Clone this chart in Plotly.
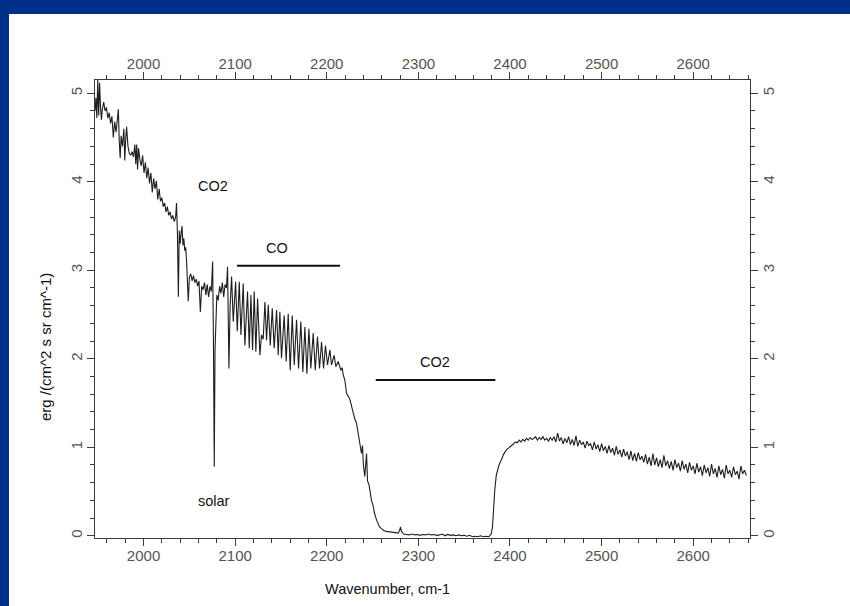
import plotly.graph_objects as go

# ---- spectrum segments (wavenumber cm-1, radiance erg/(cm^2 s sr cm^-1)) ----
wn_a = [1947, 1948, 1949, 1950, 1951, 1952, 1953, 1954, 1955, 1956.5, 1958, 1959.5, 1961, 1962.5,
        1964, 1965.5, 1967, 1968.5, 1970, 1971.5, 1972.5, 1973.5, 1974.5, 1975.5, 1977, 1978.5,
        1979.5, 1980.5, 1981.5, 1983, 1984.5, 1986, 1987.5, 1989, 1990.5, 1991.5, 1992.5, 1993.5,
        1994.5, 1996, 1997.5, 1999, 2000.5, 2002, 2003.5, 2005, 2006.5, 2008, 2009.5, 2011,
        2012.5, 2014, 2015.5, 2017, 2018.5, 2020, 2021.5, 2023, 2024.5, 2026, 2027.5, 2029,
        2030.5, 2032, 2033.5, 2035, 2036, 2037, 2038, 2039, 2040, 2041, 2042, 2043, 2044, 2045,
        2046, 2047, 2048.8, 2050, 2051.5, 2053, 2054.5, 2056, 2057.5, 2059, 2060.5, 2062, 2063.5,
        2065, 2066.5, 2068, 2069.5, 2071, 2072.5, 2074, 2075.4, 2076.3, 2077.2, 2078, 2079, 2080,
        2081.5, 2083, 2084.5, 2086, 2087.5, 2089, 2090.5, 2091.7, 2093.2, 2094.5, 2096.1]
rad_a = [4.80, 4.95, 4.72, 5.15, 4.75, 5.12, 4.85, 4.70, 4.82, 4.90, 4.80, 4.84, 4.72, 4.78,
         4.66, 4.74, 4.50, 4.68, 4.56, 4.70, 4.82, 4.45, 4.27, 4.52, 4.40, 4.60,
         4.24, 4.48, 4.62, 4.40, 4.32, 4.30, 4.34, 4.28, 4.42, 4.20, 4.42, 4.14,
         4.38, 4.25, 4.18, 4.30, 4.10, 4.22, 4.04, 4.16, 3.98, 4.10, 3.88, 4.04,
         3.92, 4.01, 3.80, 3.92, 3.78, 3.82, 3.72, 3.76, 3.66, 3.72, 3.62, 3.66,
         3.58, 3.62, 3.55, 3.60, 3.76, 3.40, 2.70, 3.45, 3.30, 3.42, 3.50, 3.28, 3.36, 3.22,
         3.26, 3.10, 2.65, 2.92, 2.96, 2.88, 2.94, 2.86, 2.90, 2.82, 2.88, 2.53, 2.82,
         2.78, 2.86, 2.72, 2.84, 2.70, 2.82, 2.76, 3.10, 2.20, 0.78, 2.10, 2.50, 2.72,
         2.66, 2.82, 2.74, 2.86, 2.70, 2.84, 2.80, 3.04, 1.89, 2.60, 2.93]

wn_co = [2097.9, 2100.5, 2102.3, 2104.5, 2106.3, 2108.8, 2110.6, 2113.5, 2115.4, 2117.2, 2119.0,
         2120.8, 2122.6, 2124.5, 2127.0, 2128.8, 2130.6, 2132.5, 2134.3, 2136.1, 2138.3, 2140.5,
         2142.6, 2145.2, 2147.0, 2148.8, 2150.6, 2153.5, 2155.7, 2157.9, 2160.1, 2162.3, 2164.5,
         2167.0, 2169.2, 2171.7, 2173.9, 2176.1, 2178.3, 2180.5, 2182.6, 2185.2, 2187.4, 2189.9,
         2192.1, 2194.3, 2196.5, 2198.6, 2200.8, 2203.4, 2205.2, 2208.1, 2209.9, 2212.5, 2215.4,
         2216.8, 2217.9, 2219.7]
rad_co = [2.42, 2.87, 2.31, 2.87, 2.27, 2.85, 2.15, 2.76, 2.12, 2.72, 2.10,
          2.76, 2.08, 2.68, 2.04, 2.27, 2.22, 2.64, 2.21, 2.61, 2.15, 2.57,
          2.12, 2.55, 2.04, 2.53, 2.01, 2.49, 1.97, 2.51, 1.87, 2.49, 1.93,
          2.44, 1.89, 2.42, 1.85, 2.36, 1.83, 2.34, 1.89, 2.29, 1.87, 2.25,
          1.89, 2.19, 1.89, 2.15, 1.93, 2.10, 1.93, 2.04, 1.91, 1.97, 1.87,
          1.90, 1.82, 1.76]

wn_drop = [2221.6, 2225, 2227, 2229, 2230.6, 2232.5, 2234, 2236, 2237.9, 2239, 2240, 2241.5,
           2242.5, 2243.4, 2244.5, 2246, 2247, 2248.8, 2250.6, 2252, 2254.3, 2256, 2257.6,
           2259.8, 2262, 2265, 2268.8, 2272, 2275, 2278, 2279.5, 2280.5, 2281.5]
rad_drop = [1.61, 1.55, 1.46, 1.40, 1.32, 1.27, 1.18, 1.05, 0.93, 1.02, 0.80, 0.67,
            0.80, 0.93, 0.62, 0.58, 0.52, 0.40, 0.34, 0.26, 0.18, 0.13, 0.10,
            0.08, 0.06, 0.05, 0.045, 0.035, 0.03, 0.03, 0.06, 0.10, 0.05]

wn_band = [2284, 2287, 2290, 2293, 2296, 2299, 2302, 2305, 2308, 2311, 2314, 2317, 2320, 2323,
           2326, 2329, 2332, 2335, 2338, 2341, 2344, 2347, 2350, 2353, 2356, 2359, 2362, 2365,
           2368, 2371, 2374, 2377]
rad_band = [0.02, 0.015, 0.01, 0.02, 0.01, 0.015, 0.005, 0.015, 0.01, 0.02, 0.01, 0.015, 0.005, 0.01,
            0.02, 0.0, 0.015, 0.005, 0.01, 0.0, 0.01, 0.0, 0.005, -0.005, 0.005, -0.01, -0.005, -0.01,
            0.0, -0.01, -0.005, -0.01]

wn_rise = [2379.5, 2380.9, 2382, 2383.4, 2385, 2386.3, 2388, 2390.6, 2393, 2396.1, 2399, 2401.5]
rad_rise = [0.02, 0.10, 0.30, 0.52, 0.68, 0.74, 0.80, 0.86, 0.92, 0.97, 1.00, 1.02]

wn_tail = [2404, 2406, 2408, 2410, 2412, 2414, 2416, 2418, 2420, 2422, 2424, 2426, 2428, 2430,
           2432, 2434, 2436, 2438, 2440, 2442, 2444, 2446, 2448, 2450, 2452, 2454, 2456, 2458,
           2460, 2462, 2464, 2466, 2468, 2470, 2472, 2474, 2476, 2478, 2480, 2482, 2484, 2486,
           2488, 2490, 2492, 2494, 2496, 2498, 2500, 2502, 2504, 2506, 2508, 2510, 2512, 2514,
           2516, 2518, 2520, 2522, 2524, 2526, 2528, 2530, 2532, 2534, 2536, 2538, 2540, 2542,
           2544, 2546, 2548, 2550, 2552, 2554, 2556, 2558, 2560, 2562, 2564, 2566, 2568, 2570,
           2572, 2574, 2576, 2578, 2580, 2582, 2584, 2586, 2588, 2590, 2592, 2594, 2596, 2598,
           2600, 2602, 2604, 2606, 2608, 2610, 2612, 2614, 2616, 2618, 2620, 2622, 2624, 2626,
           2628, 2630, 2632, 2634, 2636, 2638, 2640, 2642, 2644, 2646, 2648, 2650, 2652, 2654,
           2656, 2658]
rad_tail = [1.04, 1.06, 1.05, 1.08, 1.06, 1.09, 1.07, 1.10, 1.08, 1.11, 1.09, 1.10, 1.12, 1.08,
            1.11, 1.09, 1.12, 1.08, 1.10, 1.07, 1.11, 1.08, 1.12, 1.06, 1.16, 1.07, 1.11, 1.04,
            1.10, 1.05, 1.12, 1.03, 1.09, 1.02, 1.13, 1.01, 1.08, 1.03, 1.06, 0.99, 1.07, 1.02,
            1.04, 0.97, 1.06, 0.98, 1.03, 0.95, 1.04, 0.96, 1.01, 0.93, 1.02, 0.94, 0.99, 0.91,
            1.01, 0.92, 0.97, 0.89, 0.98, 0.90, 0.95, 0.86, 0.96, 0.85, 0.93, 0.84, 0.94, 0.86,
            0.90, 0.83, 0.92, 0.81, 0.89, 0.79, 0.93, 0.80, 0.88, 0.78, 0.86, 0.77, 0.91, 0.79,
            0.85, 0.76, 0.84, 0.74, 0.86, 0.77, 0.82, 0.73, 0.85, 0.75, 0.81, 0.71, 0.83, 0.74,
            0.79, 0.70, 0.82, 0.72, 0.78, 0.68, 0.80, 0.71, 0.77, 0.67, 0.81, 0.70, 0.76, 0.66,
            0.79, 0.69, 0.75, 0.65, 0.80, 0.70, 0.74, 0.66, 0.78, 0.69, 0.73, 0.64, 0.79, 0.70,
            0.74, 0.68]

# ---- annotations ----
label_text = ["CO2", "CO", "CO2", "solar"]
label_x = [2076, 2145.5, 2318, 2077]
label_y = [3.95, 3.25, 1.96, 0.39]

bar_x0 = [2102, 2253.5]
bar_x1 = [2214.5, 2384]
bar_y = [3.05, 1.76]

x_tick_vals = [2000, 2100, 2200, 2300, 2400, 2500, 2600]
y_tick_vals = [0, 1, 2, 3, 4, 5]
x_range = [1947, 2662]
y_range = [-0.025, 5.15]

wn = wn_a + wn_co + wn_drop + wn_band + wn_rise + wn_tail
rad = rad_a + rad_co + rad_drop + rad_band + rad_rise + rad_tail

FONT = "Arial, Liberation Sans, Helvetica, sans-serif"
AX = "#3c3c3c"
TICKC = "#555555"

fig = go.Figure()
fig.add_trace(go.Scatter(x=wn, y=rad, mode="lines",
                         line=dict(color="#1e1e1e", width=1.1), hoverinfo="skip", showlegend=False))
# companion (invisible) trace so top/right axes are drawn
fig.add_trace(go.Scatter(x=wn, y=rad, mode="lines", xaxis="x2", yaxis="y2",
                         line=dict(color="rgba(0,0,0,0)", width=0), hoverinfo="skip", showlegend=False))

for x0, x1, yb in zip(bar_x0, bar_x1, bar_y):
    fig.add_shape(type="line", xref="x", yref="y", x0=x0, x1=x1, y0=yb, y1=yb,
                  line=dict(color="#111111", width=2))

for t, x, y in zip(label_text, label_x, label_y):
    fig.add_annotation(x=x, y=y, xref="x", yref="y", text=t, showarrow=False,
                       xanchor="center", yanchor="middle",
                       font=dict(family=FONT, size=14.5, color="#111111"))

L, R, T, B = 95, 100, 80, 68
W, H = 850, 606
pw, ph = W - L - R, H - T - B

def px(xp):
    return (xp - L) / pw

def py(yp):
    return (H - B - yp) / ph

# blue frame bands
fig.add_shape(type="rect", xref="paper", yref="paper", x0=px(-2), x1=px(W + 2), y0=py(14), y1=py(-2),
              fillcolor="#00308a", line=dict(width=0), layer="below")
fig.add_shape(type="rect", xref="paper", yref="paper", x0=px(-2), x1=px(9), y0=py(H + 2), y1=py(-2),
              fillcolor="#00308a", line=dict(width=0), layer="below")

fig.add_annotation(xref="paper", yref="paper", x=px(387), y=py(589), text="Wavenumber, cm-1",
                   xanchor="center", yanchor="middle",
                   showarrow=False, font=dict(family=FONT, size=14.5, color="#111111"))
fig.add_annotation(xref="paper", yref="paper", x=px(45), y=py(347), text="erg /(cm^2 s sr cm^-1)",
                   xanchor="center", yanchor="middle",
                   textangle=-90, showarrow=False, font=dict(family=FONT, size=15, color="#111111"))

common_x = dict(range=x_range, tickvals=x_tick_vals, ticks="outside", ticklen=7, tickwidth=1,
                tickcolor=AX, showline=True, linecolor=AX, linewidth=1, showgrid=False, zeroline=False,
                tickfont=dict(family=FONT, size=15, color=TICKC),
                minor=dict(dtick=20, tick0=2000, ticks="outside", ticklen=4, tickcolor=AX, showgrid=False))
common_y = dict(range=y_range, tickvals=y_tick_vals, ticks="outside", ticklen=7, tickwidth=1,
                tickcolor=AX, showline=True, linecolor=AX, linewidth=1, showgrid=False, zeroline=False,
                tickangle=-90, tickfont=dict(family=FONT, size=15, color=TICKC),
                minor=dict(dtick=0.2, tick0=0, ticks="outside", ticklen=4, tickcolor=AX, showgrid=False))

fig.update_layout(
    width=W, height=H,
    margin=dict(l=L, r=R, t=T, b=B, pad=0),
    paper_bgcolor="white", plot_bgcolor="white",
    showlegend=False,
    xaxis=dict(**common_x, side="bottom", anchor="y", ticklabelstandoff=-3),
    xaxis2=dict(**common_x, side="top", anchor="y", overlaying="x", ticklabelstandoff=-3),
    yaxis=dict(**common_y, side="left", anchor="x", ticklabelstandoff=-1),
    yaxis2=dict(**common_y, side="right", anchor="x", overlaying="y", ticklabelstandoff=-2),
)

fig.write_html("out.html")
